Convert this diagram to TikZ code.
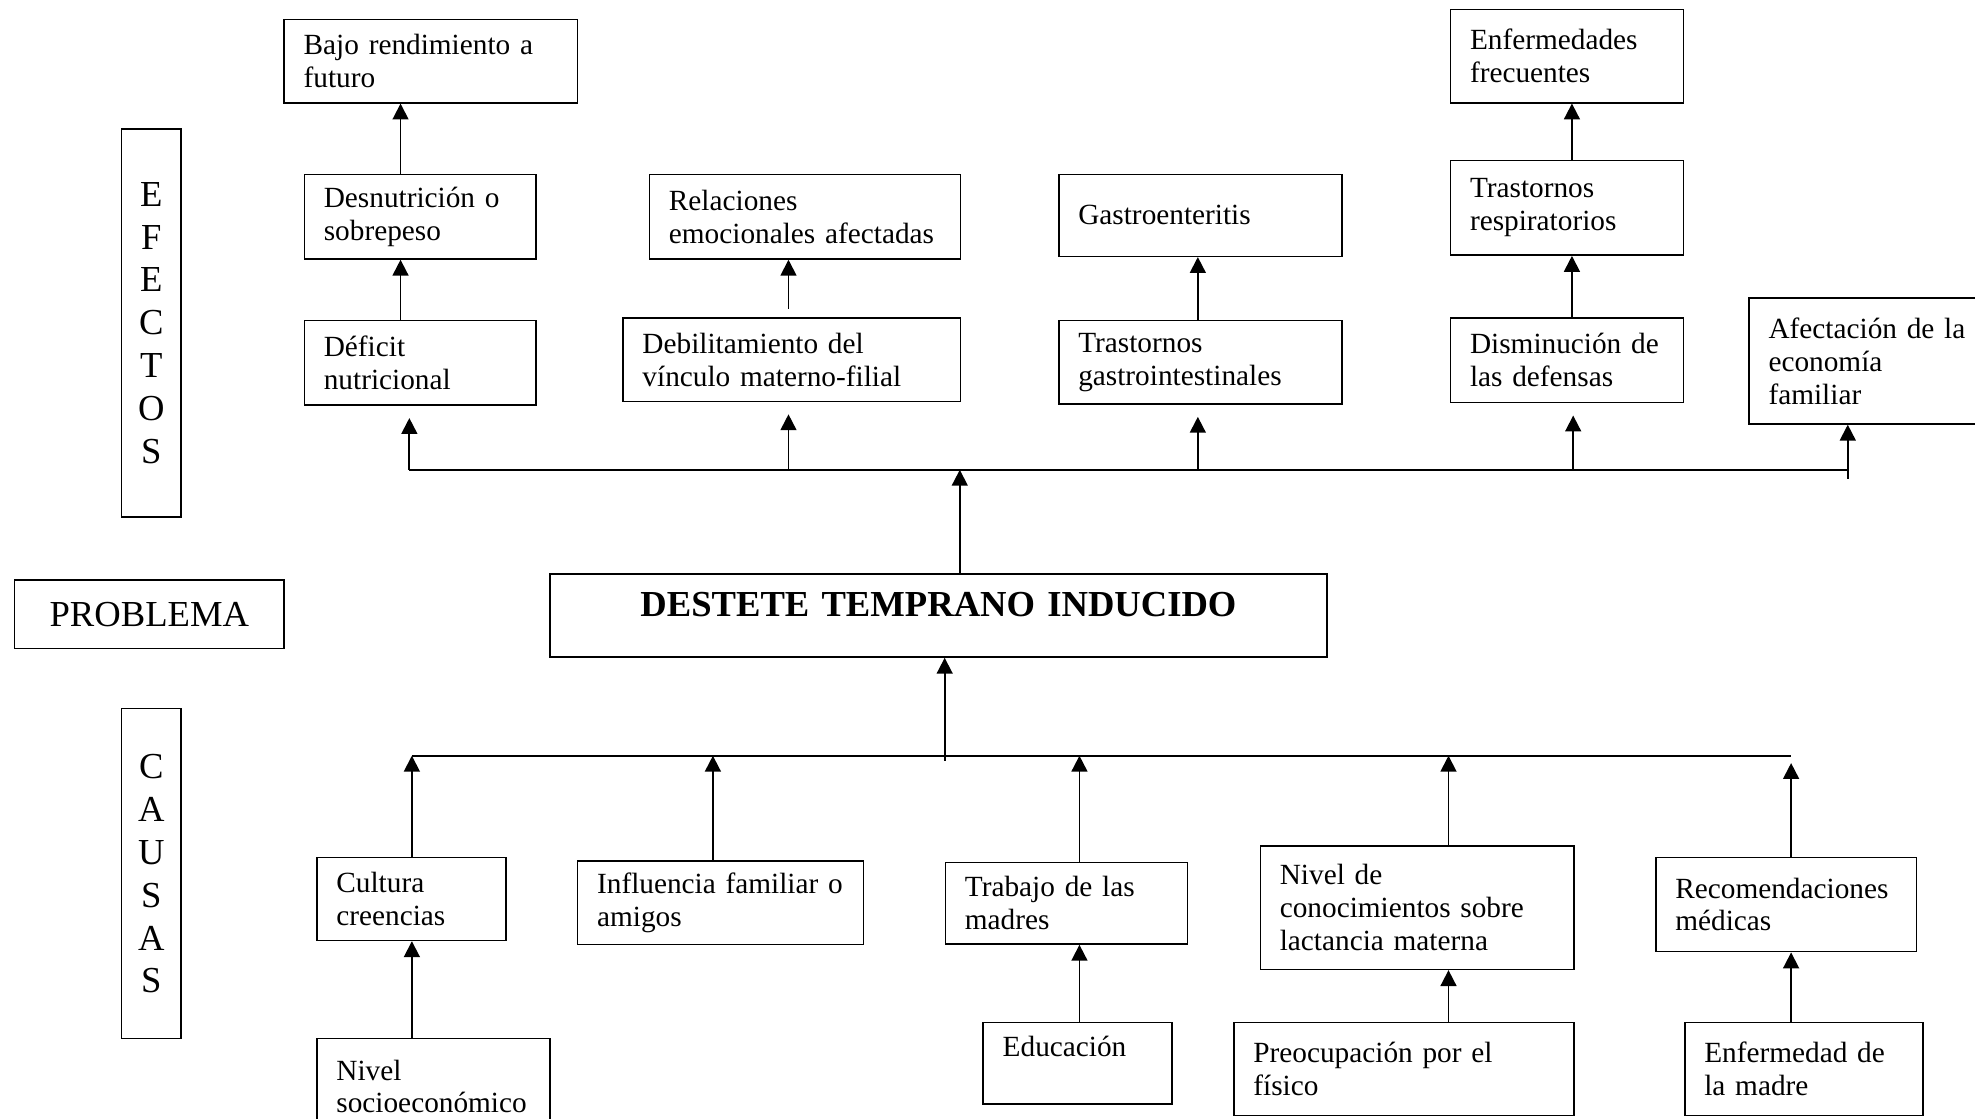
\documentclass[tikz,border=0pt]{standalone}
\usepackage{fontspec}
\setmainfont{Liberation Serif}
\usetikzlibrary{arrows.meta}
\tikzset{box/.style={draw,line width=.6pt,anchor=north west,align=left,inner xsep=8pt,
  font=\fontsize{12}{13.5}\selectfont},
 sidebox/.style={draw,line width=.6pt,anchor=north west,align=center,inner sep=0pt,
  font=\fontsize{15}{17.6}\selectfont},
 link/.style={-{Triangle[length=6.5pt,width=6.5pt]},line width=.75pt},
 busline/.style={line width=.75pt}}

\begin{document}
\begin{tikzpicture}[x=.516pt,y=-.516pt]
\useasboundingbox (0,0) rectangle (1568,888);
\node[sidebox,minimum width=24.3pt,minimum height=158.9pt] (efectos) at (96,102) {E\\F\\E\\C\\T\\O\\S};
\node[sidebox,minimum width=110.4pt,minimum height=27.9pt] (problema) at (11,460) {PROBLEMA};
\node[sidebox,minimum width=24.3pt,minimum height=135.2pt] (causas) at (96,562) {C\\A\\U\\S\\A\\S};

\node[box,text width=104.2pt,minimum height=34.1pt] (bajo) at (225,15) {Bajo rendimiento a\\futuro};
\node[box,text width=78.9pt,minimum height=34.6pt] (desn) at (241,138) {Desnutrición o\\sobrepeso};
\node[box,text width=78.9pt,minimum height=34.6pt] (defi) at (241,254) {Déficit\\nutricional};
\node[box,text width=111.5pt,minimum height=34.6pt] (rela) at (515,138) {Relaciones\\emocionales afectadas};
\node[box,text width=122.3pt,minimum height=34.1pt] (debi) at (494,252) {Debilitamiento del\\vínculo materno-filial};
\node[box,text width=100.1pt,minimum height=33.5pt] (gast) at (840,138) {Gastroenteritis};
\node[box,text width=100.1pt,minimum height=34.1pt] (trgas) at (840,254) {Trastornos\\gastrointestinales};
\node[box,text width=79.5pt,minimum height=38.2pt] (enfr) at (1151,7) {Enfermedades\\frecuentes};
\node[box,text width=79.5pt,minimum height=38.7pt] (trres) at (1151,127) {Trastornos\\respiratorios};
\node[box,text width=79.5pt,minimum height=34.6pt] (dism) at (1151,252) {Disminución de\\las defensas};
\node[box,text width=92.4pt,minimum height=51.6pt] (afec) at (1388,236) {Afectación de la\\economía\\familiar};

\node[box,align=center,text width=302.4pt,minimum height=34.1pt,text depth=9pt,
  font=\fontsize{15}{18}\selectfont\bfseries] (destete) at (436,455) {DESTETE TEMPRANO INDUCIDO};

\node[box,text width=61.4pt,minimum height=34.1pt] (cult) at (251,680) {Cultura\\creencias};
\node[box,text width=101.1pt,minimum height=34.1pt] (infl) at (458,683) {Influencia familiar o\\amigos};
\node[box,text width=83.1pt,minimum height=33.5pt] (trab) at (750,684) {Trabajo de las\\madres};
\node[box,text width=112.5pt,minimum height=50.6pt] (nivc) at (1000,671) {Nivel de\\conocimientos sobre\\lactancia materna};
\node[box,text width=90.8pt,minimum height=38.7pt] (reco) at (1314,680) {Recomendaciones\\médicas};
\node[box,text width=79.5pt,minimum height=39.2pt] (nivs) at (251,824) {Nivel\\socioeconómico};
\node[box,text width=61.4pt,minimum height=33.5pt] (educ) at (780,811) {Educación\\\mbox{}};
\node[box,text width=123.3pt,minimum height=38.2pt] (preo) at (979,811) {Preocupación por el\\físico};
\node[box,text width=81.5pt,minimum height=38.2pt] (enfm) at (1337,811) {Enfermedad de\\la madre};

\coordinate (e0) at (762,373);
\coordinate (e1) at (325,373);
\coordinate (e2) at (626,373);
\coordinate (e3) at (951,373);
\coordinate (e4) at (1249,373);
\coordinate (e5) at (1467,380);
\coordinate (k1) at (318,0);
\coordinate (k4) at (1248,0);
\draw[busline] (e1) -- (e5 |- e1);
\draw[link] (destete.north -| e0) -- (e0);
\foreach \b/\c in {defi/e1,debi/e2,trgas/e3,dism/e4}
  \draw[link,shorten >=5pt] (\c) -- (\b.south -| \c);
\draw[link] (e5) -- (afec.south -| e5);
\draw[link] (defi.north -| k1) -- (desn.south -| k1);
\draw[link] (desn.north -| k1) -- (bajo.south -| k1);
\draw[link,shorten <=3.5pt] (debi.north -| e2) -- (rela.south -| e2);
\draw[link] (trgas.north -| e3) -- (gast.south -| e3);
\draw[link] (dism.north -| k4) -- (trres.south -| k4);
\draw[link] (trres.north -| k4) -- (enfr.south -| k4);

\coordinate (c0) at (750,604);
\coordinate (c1) at (327,600);
\coordinate (c2) at (566,600);
\coordinate (c3) at (857,600);
\coordinate (c4) at (1150,600);
\coordinate (c5) at (1422,600);
\draw[busline] (c1) -- (c5);
\draw[link] (c0) -- (destete.south -| c0);
\foreach \b/\c in {cult/c1,infl/c2,trab/c3,nivc/c4}
  \draw[link] (\b.north -| \c) -- (\c);
\draw[link,shorten >=3pt] (reco.north -| c5) -- (c5);
\draw[link] (nivs.north -| c1) -- (cult.south -| c1);
\draw[link] (educ.north -| c3) -- (trab.south -| c3);
\draw[link] (preo.north -| c4) -- (nivc.south -| c4);
\draw[link] (enfm.north -| c5) -- (reco.south -| c5);
\end{tikzpicture}
\end{document}
